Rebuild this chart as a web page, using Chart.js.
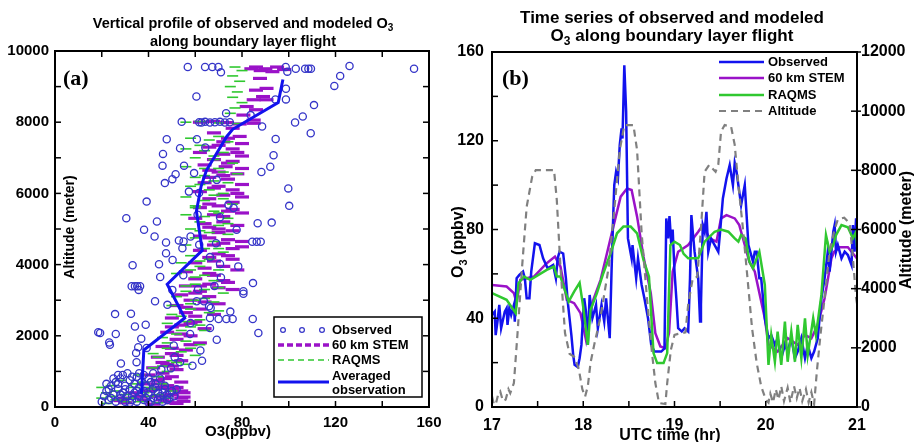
<!DOCTYPE html>
<html>
<head>
<meta charset="utf-8">
<script src="https://cdn.jsdelivr.net/npm/chart.js@4/dist/chart.umd.min.js"></script>
<style>
html, body { margin: 0; padding: 0; background: #fff; }
#wrap { position: relative; width: 914px; height: 442px; overflow: hidden; }
canvas { position: absolute; top: 0; }
#profile { left: 0; }
#series { left: 440px; }
</style>
</head>
<body>
<div id="wrap">
  <canvas id="profile" width="457" height="442"></canvas>
  <canvas id="series" width="474" height="442"></canvas>
</div>
<script>
// ---- panel (a): vertical profile ----
const profObsO3 = [
  56.8, 64.2, 67.3, 69.9, 71.0, 98.7, 99.4, 103, 107, 108.4, 109.5, 126, 153.6,
  122, 119.5, 98.8, 60.5, 94.3, 98.8, 110.8, 106, 102.7, 109.4, 88.6, 83.7, 73.2, 54.2,
  61.7, 62.7, 64.2, 66.3, 68.4, 70.6, 72.7, 74.8,
  94.4, 47.8, 60.7, 53.5, 64.3, 93.5, 46.2, 92.1, 46.0, 55.2, 88.3, 51.6, 50.2, 47.0,
  59.5, 64.9, 69.2, 99.8, 57.3, 61.6, 100.2, 39.2, 74.2, 76.4, 30.5, 43.6, 61.0, 70.6,
  86.7, 92.7, 38.1, 42.6, 58.0, 77.7, 61.7, 68.9, 47.5, 47.5, 53.0, 55.0, 54.5, 50.3,
  84.4, 86.3, 88.0, 33.2, 44.5, 66.3, 70.6, 78.4, 45.0, 54.9, 71.0, 32.8, 34.2, 35.2,
  36.4, 35.8, 84.7, 80.6, 80.6, 50.2, 61.2, 68.2, 42.8, 48.1, 60.6, 63.7, 65.9, 66.6,
  25.7, 32.5, 75.0, 66.3, 70.0, 73.3, 76.0, 84.6, 58.0, 34.2, 38.8, 66.3, 18.5, 19.3,
  26.0, 87.0, 57.8, 36.9, 69.2, 23.2, 23.5, 50.8, 62.2, 34.7, 39.2, 51.2, 28.2, 34.9,
  53.5, 62.9, 58.8, 49.6, 35.6, 45.5,
  20, 21, 22, 23, 24, 25, 26, 26, 27, 28, 28, 29, 30, 30,
  31, 32, 32, 33, 34, 34, 35, 35, 36, 36, 37, 38, 38, 39,
  40, 40, 41, 42, 42, 43, 44, 45, 45, 46, 47, 48, 49, 50,
  52, 29, 31, 36, 42, 27, 25, 33, 39, 44, 47, 23, 28, 37,
  41, 46, 32, 40, 24, 30, 35, 43, 48, 22, 27, 33, 38, 51
];
const profObsAlt = [
  9550, 9550, 9550, 9550, 9400, 9550, 9420, 9500, 9500, 9500, 9500, 9580, 9500,
  9300, 9020, 8940, 8720, 8640, 8640, 8480, 8160, 7990, 7690, 7880, 8200, 8250, 8010,
  8000, 7990, 8010, 7990, 8000, 8010, 7990, 8000,
  7530, 7520, 7520, 7270, 7290, 7070, 7110, 6750, 6780, 6780, 6600, 6540, 6400, 6290,
  6570, 6380, 6380, 6140, 6050, 6010, 5650, 5770, 5680, 5590, 5300, 5210, 5400, 5330,
  5160, 5180, 4980, 4790, 4790, 4980, 4560, 4600, 4620, 4320, 4680, 4650, 4460, 4130,
  4640, 4640, 4640, 3980, 4010, 4210, 4020, 3950, 3650, 3700, 3640, 3390, 3390, 3390,
  3390, 3290, 3480, 3250, 3180, 3290, 3310, 3400, 2970, 2870, 2970, 2970, 2830, 2780,
  2610, 2620, 2680, 2500, 2470, 2470, 2470, 2470, 2360, 2260, 2310, 2220, 2100, 2080,
  2050, 2080, 2050, 1920, 1890, 1810, 1750, 1730, 1590, 1520, 1660, 1400, 1220, 1260,
  1260, 1300, 1160, 1090, 1680, 1050,
  150, 300, 450, 200, 600, 350, 700, 150, 500, 250, 800, 400, 600, 150,
  300, 750, 500, 200, 650, 400, 850, 150, 550, 300, 700, 200, 450, 600,
  350, 800, 150, 500, 250, 650, 400, 300, 800, 150, 500, 350, 250, 450,
  500, 900, 950, 950, 950, 650, 800, 300, 250, 200, 600, 500, 350, 400,
  700, 400, 120, 120, 250, 500, 450, 550, 200, 650, 900, 850, 900, 300
];
const profStemO3 = [
  86, 90, 95, 88, 93, 84, 98,
  87.7, 90.5, 86, 89, 85, 90.5, 82, 86, 80.6, 85,
  67.7, 73.4, 79, 85, 62,
  76, 79, 72, 80, 66, 76, 62, 72, 80, 68, 76, 64, 73, 80, 70, 78, 66, 74, 64, 80,
  70, 76, 62, 72, 80, 66, 76, 70, 62, 74, 80, 68, 60, 72, 78, 66, 76, 70, 62, 74,
  80, 68, 76, 62, 70, 66, 76, 60, 72, 64, 56, 68, 60, 74, 66, 56, 70, 62, 54, 66,
  58, 70, 52, 62, 56, 68, 50, 60, 54, 64, 48, 58, 52, 62, 46, 56, 50, 44, 54, 48,
  42, 52, 46, 40, 50, 44, 54, 38, 48, 52, 42, 54, 34, 50, 44, 54, 38, 48, 30, 52, 42,
  68, 74, 70, 78, 74, 66, 72, 68, 78, 66, 76, 72, 64, 70, 66, 72, 80, 74, 68, 78,
  66, 72, 62, 76, 60, 64, 56, 60, 58, 50, 54, 58, 50, 52, 46, 50,
  46, 50, 55, 48, 55, 46, 55, 50, 36, 40, 30, 28, 44, 47
];
const profStemAlt = [
  9550, 9500, 9550, 9450, 9420, 9500, 9480,
  9230, 8950, 8900, 8720, 8630, 8630, 8440, 8350, 8200, 8060,
  8020, 7990, 7950, 7970, 8000,
  7830, 7600, 7450, 7400, 7300, 7250, 7150, 7100, 7050, 6950, 6900, 6800, 6750, 6700, 6600, 6550, 6450, 6400, 6300, 6250,
  6200, 6100, 6050, 5950, 5900, 5850, 5750, 5650, 5600, 5500, 5450, 5400, 5300, 5200, 5100, 5050, 4950, 4900, 4800, 4700,
  4650, 4550, 4450, 4400, 4300, 4200, 4150, 4050, 3950, 3900, 3800, 3700, 3600, 3500, 3450, 3400, 3350, 3250, 3150, 3100,
  3000, 2900, 2850, 2750, 2650, 2600, 2500, 2400, 2300, 2200, 2100, 2000, 1900, 1800, 1700, 1600, 1500, 1400, 1300, 1200,
  1100, 1050, 950, 900, 850, 750, 700, 650, 600, 550, 500, 450, 400, 350, 300, 250, 200, 150, 120, 100, 80,
  7700, 7550, 7350, 7150, 6850, 6650, 6500, 6150, 6000, 5700, 5550, 5350, 5150, 5000, 4750, 4600, 4500, 4250, 4100, 3850,
  3750, 3550, 3400, 3300, 3200, 2950, 2800, 2550, 2350, 2250, 2050, 1750, 1650, 1450, 1250, 1150,
  550, 480, 400, 330, 280, 200, 160, 120, 300, 450, 250, 180, 650, 800
];
const profRaqmsO3 = [
  77, 80, 76, 79, 75, 78, 76, 80, 77, 75,
  56, 62, 70, 78,
  58, 66, 74, 56, 64, 72, 60, 68, 76, 56, 64, 72, 78, 60, 68, 74, 58, 66, 72, 56,
  64, 76, 60, 68, 56, 74, 62, 70, 58, 66, 74, 60, 68, 56, 64, 72, 58, 66, 54, 62,
  70, 52, 60, 68, 56, 64, 72, 52, 60, 68, 50, 58, 66, 54, 62, 48, 58, 64, 52, 46,
  56, 62, 48, 54, 60, 44, 50, 56, 42, 48, 36, 44, 28, 38, 46, 24, 34, 42, 50, 22,
  30, 40, 48, 26, 36, 44, 22,
  70, 62, 68, 70, 64, 62, 68, 72, 60, 70, 64, 74, 62, 70, 62, 58, 64, 60, 70, 56,
  64, 58, 70, 50, 56, 62, 54, 48, 58, 42, 52, 46,
  20, 26, 32, 38, 24, 30, 44, 34, 40, 20
];
const profRaqmsAlt = [
  9550, 9450, 9300, 9150, 9000, 8850, 8700, 8550, 8400, 8250,
  8000, 8020, 7980, 7960,
  7550, 7500, 7450, 7250, 7200, 7150, 7000, 6950, 6850, 6750, 6700, 6600, 6550, 6450, 6350, 6300, 6200, 6100, 6000, 5900,
  5800, 5700, 5600, 5500, 5400, 5300, 5200, 5100, 5000, 4900, 4850, 4750, 4650, 4550, 4450, 4350, 4250, 4150, 4050, 3950,
  3850, 3750, 3650, 3550, 3400, 3300, 3200, 3100, 3000, 2950, 2850, 2750, 2650, 2550, 2450, 2350, 2250, 2150, 2050, 1950,
  1850, 1750, 1650, 1550, 1450, 1400, 1300, 1200, 1100, 1000, 900, 850, 750, 700, 650, 600, 550, 500, 450, 400,
  350, 300, 250, 200, 150, 120, 100,
  7600, 7350, 7050, 6700, 6500, 6250, 5950, 5850, 5650, 5450, 5350, 5150, 4950, 4450, 4100, 3850, 3700, 3450, 3350, 3250,
  3050, 2900, 2700, 2600, 2400, 2300, 2150, 1800, 1650, 1500, 1250, 1150,
  550, 450, 250, 400, 300, 150, 350, 650, 550, 250
];
const profAvgO3 = [37, 38, 55.5, 48, 63, 60.5, 62.5, 64.8, 73.5, 76, 95.5, 97.5];
const profAvgAlt = [370, 1600, 2500, 3450, 4400, 5500, 6200, 6650, 7600, 7800, 8550, 9200];

// ---- panel (b): time series ----
const obsTime = [
  17.00, 17.03, 17.04, 17.06, 17.08, 17.10, 17.14, 17.16, 17.17, 17.19, 17.21, 17.24, 17.25, 17.27,
  17.30, 17.34, 17.36, 17.38, 17.41, 17.43, 17.47, 17.52, 17.56, 17.61, 17.67, 17.70, 17.72, 17.74,
  17.78, 17.81, 17.83, 17.87, 17.89, 17.905, 17.94, 17.96, 17.98, 18.01, 18.03, 18.05, 18.07, 18.10,
  18.14, 18.16, 18.20, 18.23, 18.25, 18.29, 18.31, 18.33, 18.34, 18.36, 18.38, 18.40, 18.42, 18.43,
  18.45, 18.47, 18.49, 18.53, 18.54, 18.58, 18.60, 18.64, 18.67, 18.71, 18.745, 18.78, 18.855, 18.89,
  18.91, 18.93, 18.945, 18.965, 18.98, 19.00, 19.02, 19.04, 19.08, 19.11, 19.15, 19.17, 19.185, 19.20,
  19.22, 19.26, 19.28, 19.29, 19.31, 19.33, 19.35, 19.37, 19.40, 19.44, 19.48, 19.50, 19.53, 19.57,
  19.605, 19.64, 19.66, 19.68, 19.70, 19.73, 19.77, 19.81, 19.86, 19.88, 19.90, 19.93, 19.95, 19.99,
  20.03, 20.06, 20.10, 20.13, 20.17, 20.21, 20.24, 20.28, 20.32, 20.35, 20.39, 20.43, 20.46, 20.50,
  20.53, 20.57, 20.61, 20.645, 20.68, 20.70, 20.74, 20.755, 20.77, 20.79, 20.83, 20.865, 20.90, 20.94,
  20.955, 20.97, 20.99, 21.00
];
const obsO3 = [
  41.5, 43, 32.4, 38.5, 46, 35.5, 43, 44.5, 37, 44.5, 41.5, 46, 38.5, 58,
  59.5, 61, 58, 49, 49, 61, 73.8, 73, 67, 62.5, 64, 58, 67, 70,
  69.2, 58, 47.5, 32.4, 23.4, 19, 18, 22, 28, 49, 43, 28, 50.5, 40,
  46, 35.5, 46, 38.5, 49, 31, 61, 88, 100, 106, 103, 118, 125.6, 121,
  154, 133, 76, 67, 73, 58, 67, 55, 49, 40, 28, 25, 25, 26.4,
  85, 76, 86, 73, 80, 61, 49, 35.5, 34, 35.5, 34, 58, 86.5, 79,
  70, 58, 38.5, 46, 82, 79, 88, 70, 76, 73, 70, 79, 94, 103,
  109, 100, 110, 106, 100, 91, 100, 73, 65.5, 70, 70, 58, 58, 40,
  31, 32.4, 28, 31, 22, 28, 25, 31, 22, 25, 31, 22, 28, 22,
  25, 31, 49, 58, 70, 61, 79, 82, 70, 73, 67, 70, 68.5, 64,
  82, 70, 85, 70
];
const stemTime = [
  17.00, 17.16, 17.24, 17.27, 17.31, 17.46, 17.60, 17.69, 17.75, 17.82, 17.90, 17.97, 18.03, 18.06,
  18.11, 18.19, 18.26, 18.33, 18.41, 18.48, 18.53, 18.59, 18.66, 18.74, 18.79, 18.845, 18.90, 18.94,
  18.98, 19.04, 19.15, 19.26, 19.31, 19.385, 19.46, 19.51, 19.57, 19.66, 19.71, 19.77, 19.82, 19.88,
  19.99, 20.03, 20.13, 20.24, 20.35, 20.43, 20.50, 20.57, 20.645, 20.72, 20.75, 20.81, 20.90, 20.94, 21.00
];
const stemO3 = [
  55, 54.3, 51.3, 46.8, 57.3, 58.8, 64.8, 67.8, 63.3, 48.3, 46.8, 42.3, 30.3, 39.3,
  48.3, 57.3, 69.3, 81.3, 94.8, 98.5, 97.8, 85.8, 67.8, 51.3, 33.3, 27.3, 26.5, 33.3,
  61, 70, 73, 79, 82, 76, 74.5, 85, 86.5, 85, 82, 73, 65.5, 61,
  40, 28, 25, 31, 28, 32.4, 31, 37, 49, 67, 70, 72, 72, 70, 67
];
const raqmsTime = [
  17.00, 17.16, 17.26, 17.29, 17.35, 17.42, 17.60, 17.68, 17.71, 17.75, 17.84, 17.90, 17.96, 18.00,
  18.05, 18.08, 18.15, 18.22, 18.30, 18.37, 18.44, 18.52, 18.59, 18.66, 18.72, 18.77, 18.81, 18.88,
  18.92, 18.955, 19.00, 19.06, 19.10, 19.15, 19.26, 19.33, 19.44, 19.51, 19.59, 19.66, 19.70, 19.73,
  19.78, 19.82, 19.86, 19.90, 19.93, 19.99, 20.03, 20.06, 20.10, 20.13, 20.17, 20.21, 20.24, 20.28,
  20.32, 20.35, 20.39, 20.43, 20.46, 20.52, 20.55, 20.61, 20.66, 20.70, 20.74, 20.77, 20.83, 20.90,
  20.955, 20.99, 21.00
];
const raqmsO3 = [
  51.3, 48.3, 42.3, 55.8, 58.8, 57.3, 61.8, 63.3, 58.8, 58.8, 47.5, 52, 56, 45,
  28, 43.8, 51.3, 60.3, 69.3, 78.3, 81.3, 81.3, 78.3, 66.3, 58.8, 24.3, 19.8, 19.8,
  24.3, 73, 74.5, 73, 69, 67, 67, 74.5, 79, 80, 79, 76, 74.5, 77.5,
  76, 65.5, 62.5, 67, 70, 55, 19, 32.4, 20.4, 34, 19, 38.5, 20.4, 34,
  20.4, 37, 22, 40, 23.4, 40, 32.4, 50.5, 77.5, 70, 73, 77.5, 82, 81,
  76, 79, 72
];
const altTime = [
  17.00, 17.02, 17.04, 17.07, 17.09, 17.12, 17.15, 17.18, 17.20, 17.24, 17.28, 17.33, 17.38, 17.44,
  17.48, 17.68, 17.71, 17.75, 17.80, 17.85, 17.90, 17.95, 17.99, 18.02, 18.05, 18.08, 18.12, 18.19,
  18.28, 18.35, 18.40, 18.45, 18.55, 18.59, 18.64, 18.70, 18.75, 18.79, 18.83, 18.90, 18.92, 18.96,
  19.00, 19.04, 19.12, 19.15, 19.20, 19.25, 19.29, 19.33, 19.38, 19.45, 19.48, 19.51, 19.55, 19.62,
  19.66, 19.70, 19.75, 19.80, 19.85, 19.90, 19.95, 20.00, 20.03, 20.05, 20.08, 20.11, 20.14, 20.17,
  20.20, 20.24, 20.27, 20.31, 20.34, 20.37, 20.40, 20.44, 20.47, 20.50, 20.53, 20.56, 20.60, 20.645,
  20.70, 20.75, 20.79, 20.86, 20.92, 20.955, 20.99, 21.00
];
const altMeters = [
  360, 100, 80, 450, 530, 200, 250, 600, 470, 810, 2500, 4750, 6770, 7780,
  8010, 8010, 7000, 4750, 2500, 1800, 1700, 1300, 600, 350, 700, 1500, 2100, 3060,
  4750, 7000, 8680, 9525, 9525, 8680, 5870, 3620, 1930, 810, 135, 100, 810, 1930,
  2440, 2470, 2520, 3470, 4350, 4400, 6030, 7950, 8180, 7950, 8200, 9310, 9530, 9480,
  8860, 7510, 6030, 4350, 2660, 1500, 700, 250, 150, 450, 150, 600, 250, 700,
  200, 650, 150, 700, 300, 650, 200, 600, 150, 500, 100, 1200, 2450, 3690,
  5270, 5950, 6340, 6400, 6200, 5050, 3690, 3500
];

const BLUE = '#1212ee', PURPLE = '#9a12c8', GREEN = '#30c830', GREY = '#808080', CIRCLE = '#3535c8';
const FONT = '"Liberation Sans", Arial, sans-serif';
Chart.defaults.font.family = FONT;
Chart.defaults.color = '#000';

const pts = (xs, ys) => xs.map((x, i) => ({ x: x, y: ys[i] }));
const plain = v => String(v);

function subText(ctx, parts, x, y, size) {
  let w = 0;
  parts.forEach(p => {
    ctx.font = 'bold ' + (p[1] ? Math.round(size * 0.68) : size) + 'px ' + FONT;
    w += ctx.measureText(p[0]).width;
  });
  let cx = x - w / 2;
  parts.forEach(p => {
    ctx.font = 'bold ' + (p[1] ? Math.round(size * 0.68) : size) + 'px ' + FONT;
    ctx.fillText(p[0], cx, p[1] ? y + size * 0.32 : y);
    cx += ctx.measureText(p[0]).width;
  });
}

function line(ctx, x1, y1, x2, y2) {
  ctx.beginPath(); ctx.moveTo(x1, y1); ctx.lineTo(x2, y2); ctx.stroke();
}

// box, inward ticks, titles and legends
function makeDeco(cfg) {
  return {
    id: 'deco',
    afterDatasetsDraw(chart) {
      const ctx = chart.ctx, a = chart.chartArea, s = chart.scales;
      ctx.save();
      ctx.strokeStyle = '#000';
      ctx.lineWidth = 1.5;
      ctx.setLineDash([]);
      for (let v = s.x.min; v <= s.x.max + 1e-6; v += cfg.xStep) {
        const p = s.x.getPixelForValue(v);
        line(ctx, p, a.bottom, p, a.bottom - 6);
        if (cfg.topTicks) line(ctx, p, a.top, p, a.top + 6);
      }
      for (let v = s.y.min; v <= s.y.max + 1e-6; v += cfg.yStep) {
        const p = s.y.getPixelForValue(v);
        line(ctx, a.left, p, a.left + 6, p);
        if (cfg.rightTicks) line(ctx, a.right, p, a.right - 6, p);
      }
      if (s.y2) {
        for (let v = s.y2.min; v <= s.y2.max + 1e-6; v += cfg.y2Step) {
          const p = s.y2.getPixelForValue(v);
          line(ctx, a.right - 6, p, a.right + 4, p);
        }
      }
      ctx.lineWidth = 2;
      ctx.strokeRect(a.left, a.top, a.right - a.left, a.bottom - a.top);

      ctx.fillStyle = '#000';
      ctx.textBaseline = 'middle';
      ctx.textAlign = 'left';
      cfg.title.forEach(t => subText(ctx, t.parts, cfg.titleX, t.y, cfg.titleSize));
      cfg.texts.forEach(t => {
        ctx.save();
        ctx.translate(t.x, t.y);
        ctx.rotate(t.rot || 0);
        subText(ctx, t.parts, 0, 0, t.size);
        ctx.restore();
      });
      ctx.textBaseline = 'alphabetic';
      ctx.font = 'bold 22px "Liberation Serif", "Times New Roman", serif';
      ctx.fillText(cfg.panel[0], cfg.panel[1], cfg.panel[2]);

      cfg.legend(ctx);
      ctx.restore();
    }
  };
}

new Chart(document.getElementById('profile'), {
  type: 'scatter',
  data: {
    datasets: [
      { label: 'Averaged observation', data: pts(profAvgO3, profAvgAlt), showLine: true, borderColor: BLUE,
        borderWidth: 3, pointRadius: 0, order: 0 },
      { label: 'Observed', data: pts(profObsO3, profObsAlt), pointStyle: 'circle', pointRadius: 3.6,
        borderColor: CIRCLE, backgroundColor: 'rgba(0,0,0,0)', pointBorderWidth: 1.3, order: 1 },
      { label: 'RAQMS', data: pts(profRaqmsO3, profRaqmsAlt), pointStyle: 'line', pointRadius: 5.5,
        borderColor: GREEN, pointBorderWidth: 1.6, order: 2 },
      { label: '60 km STEM', data: pts(profStemO3, profStemAlt), pointStyle: 'line', pointRadius: 7,
        borderColor: PURPLE, pointBorderWidth: 3.2, order: 3 }
    ]
  },
  options: {
    responsive: false,
    animation: false,
    devicePixelRatio: 1,
    layout: { padding: { top: 51, right: 28, left: 0, bottom: 0 } },
    plugins: { legend: { display: false }, tooltip: { enabled: false } },
    scales: {
      x: { type: 'linear', min: 0, max: 160, grid: { display: false, tickLength: 0 }, border: { display: false },
        ticks: { stepSize: 40, padding: 7, callback: plain, font: { size: 15, weight: 'bold' } },
        afterFit(sc) { sc.height = 35; } },
      y: { type: 'linear', min: 0, max: 10000, grid: { display: false, tickLength: 0 }, border: { display: false },
        ticks: { stepSize: 2000, padding: 6, callback: plain, font: { size: 15, weight: 'bold' } },
        afterFit(sc) { sc.width = 55; } }
    }
  },
  plugins: [makeDeco({
    xStep: 20, yStep: 1000, topTicks: true, rightTicks: true,
    titleX: 243, titleSize: 14.5,
    title: [
      { y: 24, parts: [['Vertical profile of observed and modeled O', false], ['3', true]] },
      { y: 41.5, parts: [['along boundary layer flight', false]] }
    ],
    texts: [
      { x: 70, y: 227, rot: -Math.PI / 2, size: 14, parts: [['Altitude (meter)', false]] },
      { x: 238, y: 432, size: 15, parts: [['O3(ppbv)', false]] }
    ],
    panel: ['(a)', 63, 85],
    legend(ctx) {
      ctx.lineWidth = 1.5; ctx.strokeStyle = '#000'; ctx.setLineDash([]);
      ctx.strokeRect(274, 317, 148, 80);
      ctx.strokeStyle = CIRCLE; ctx.lineWidth = 1.2;
      [283, 302, 322].forEach(x => { ctx.beginPath(); ctx.arc(x, 330, 2.4, 0, Math.PI * 2); ctx.stroke(); });
      ctx.strokeStyle = PURPLE; ctx.lineWidth = 3.5; ctx.setLineDash([6, 3]);
      line(ctx, 278, 345, 329, 345);
      ctx.strokeStyle = GREEN; ctx.lineWidth = 1.5; ctx.setLineDash([6, 4]);
      line(ctx, 278, 360, 329, 360);
      ctx.strokeStyle = BLUE; ctx.lineWidth = 3; ctx.setLineDash([]);
      line(ctx, 278, 382, 329, 382);
      ctx.fillStyle = '#000'; ctx.textBaseline = 'middle';
      ctx.font = 'bold 13px ' + FONT;
      ctx.fillText('Observed', 332, 330);
      ctx.fillText('60 km STEM', 332, 345);
      ctx.fillText('RAQMS', 332, 360);
      ctx.fillText('Averaged', 332, 376);
      ctx.fillText('observation', 332, 390);
    }
  })]
});

new Chart(document.getElementById('series'), {
  type: 'scatter',
  data: {
    datasets: [
      { label: 'Altitude', data: pts(altTime, altMeters), yAxisID: 'y2', showLine: true, borderColor: GREY,
        borderWidth: 2.2, borderDash: [7, 5], pointRadius: 0, order: 0 },
      { label: 'RAQMS', data: pts(raqmsTime, raqmsO3), showLine: true, borderColor: GREEN,
        borderWidth: 2.5, pointRadius: 0, order: 1 },
      { label: 'Observed', data: pts(obsTime, obsO3), showLine: true, borderColor: BLUE,
        borderWidth: 2.5, pointRadius: 0, order: 2 },
      { label: '60 km STEM', data: pts(stemTime, stemO3), showLine: true, borderColor: PURPLE,
        borderWidth: 2.5, pointRadius: 0, order: 3 }
    ]
  },
  options: {
    responsive: false,
    animation: false,
    devicePixelRatio: 1,
    layout: { padding: { top: 52, right: 0, left: 0, bottom: 0 } },
    plugins: { legend: { display: false }, tooltip: { enabled: false } },
    scales: {
      x: { type: 'linear', min: 17, max: 21, grid: { display: false, tickLength: 0 }, border: { display: false },
        ticks: { stepSize: 1, padding: 9, callback: plain, font: { size: 16, weight: 'bold' } },
        afterFit(sc) { sc.height = 35; } },
      y: { type: 'linear', position: 'left', min: 0, max: 160, grid: { display: false, tickLength: 0 }, border: { display: false },
        ticks: { stepSize: 40, padding: 8, callback: plain, font: { size: 16, weight: 'bold' } },
        afterFit(sc) { sc.width = 52; } },
      y2: { type: 'linear', position: 'right', min: 0, max: 12000, grid: { display: false, tickLength: 0 }, border: { display: false },
        ticks: { stepSize: 2000, padding: 4, callback: plain, font: { size: 16, weight: 'bold' } },
        afterFit(sc) { sc.width = 57; } }
    }
  },
  plugins: [makeDeco({
    xStep: 0.5, yStep: 20, y2Step: 2000, topTicks: false, rightTicks: false,
    titleX: 232, titleSize: 17,
    title: [
      { y: 18, parts: [['Time series of observed and modeled', false]] },
      { y: 36, parts: [['O', false], ['3', true], [' along boundary layer flight', false]] }
    ],
    texts: [
      { x: 19, y: 242, rot: -Math.PI / 2, size: 16, parts: [['O', false], ['3', true], [' (ppbv)', false]] },
      { x: 467, y: 230, rot: -Math.PI / 2, size: 16, parts: [['Altitude (meter)', false]] },
      { x: 230, y: 436, size: 16, parts: [['UTC time (hr)', false]] }
    ],
    panel: ['(b)', 62, 85],
    legend(ctx) {
      const rows = [[BLUE, 'Observed', 62], [PURPLE, '60 km STEM', 78], [GREEN, 'RAQMS', 95], [GREY, 'Altitude', 111]];
      rows.forEach(r => {
        ctx.strokeStyle = r[0];
        ctx.lineWidth = r[1] === 'Altitude' ? 2 : 2.5;
        ctx.setLineDash(r[1] === 'Altitude' ? [7, 5] : []);
        line(ctx, 279, r[2], 324, r[2]);
        ctx.fillStyle = '#000'; ctx.textBaseline = 'middle';
        ctx.font = 'bold 13px ' + FONT;
        ctx.fillText(r[1], 328, r[2]);
      });
      ctx.setLineDash([]);
    }
  })]
});
</script>
</body>
</html>
